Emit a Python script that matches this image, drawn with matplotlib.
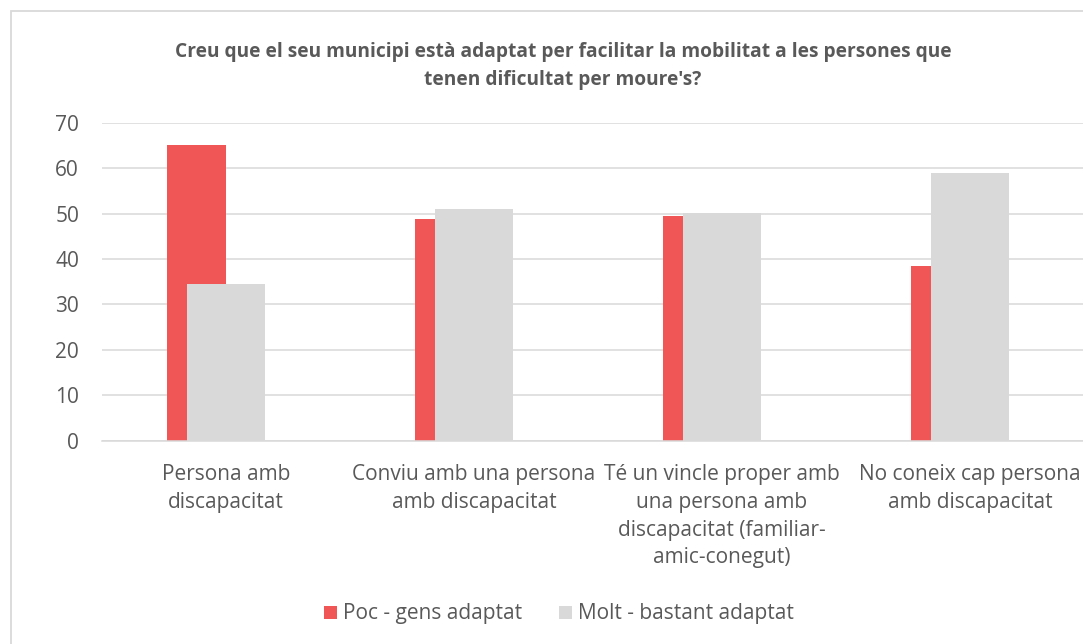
import matplotlib.pyplot as plt
from matplotlib.patches import Rectangle
import numpy as np

# Survey results (%)
categories = [
    "Persona amb\ndiscapacitat",
    "Conviu amb una persona\namb discapacitat",
    "Té un vincle proper amb\nuna persona amb\ndiscapacitat (familiar-\namic-conegut)",
    "No coneix cap persona\namb discapacitat",
]
poc_gens = [65.2, 48.8, 49.4, 38.5]
molt_bastant = [34.6, 51.0, 50.1, 58.9]
yticks = [0, 10, 20, 30, 40, 50, 60, 70]

title = ("Creu que el seu municipi està adaptat per facilitar la mobilitat a les persones que\n"
         "tenen dificultat per moure's?")

red = '#F05656'
grey = '#D9D9D9'
text_col = '#595959'

plt.rcParams['font.family'] = ['Open Sans', 'DejaVu Sans']

fig = plt.figure(figsize=(10.83, 6.44), dpi=100)
ax = fig.add_axes([102 / 1083, 203.3 / 644, 992 / 1083, 318 / 644])

x = np.arange(len(categories))
ax.bar(x - 0.12, poc_gens, width=0.239, color=red, label='Poc - gens adaptat', zorder=2)
ax.bar(x, molt_bastant, width=0.313, color=grey, label='Molt - bastant adaptat', zorder=3)

ax.set_xlim(-0.5, 3.5)
ax.set_ylim(0, 70)
ax.set_yticks(yticks)
ax.yaxis.grid(True, color=grey, linewidth=1.1, zorder=0)
ax.set_axisbelow(True)
for s in ['left', 'right', 'top']:
    ax.spines[s].set_visible(False)
ax.spines['bottom'].set_color(grey)
ax.spines['bottom'].set_linewidth(1.1)

ax.set_xticks(x)
ax.set_xticklabels(categories, fontsize=15, color=text_col, linespacing=1.42, va='top')
ax.tick_params(axis='x', length=0, pad=17)
ax.tick_params(axis='y', length=0, pad=16.5, labelsize=15, labelcolor=text_col)

fig.text(563 / 1083, 1 - 66 / 644, title, ha='center', va='center',
         fontsize=13.8, fontweight='bold', color=text_col, linespacing=1.6)

fig.legend(loc='center', bbox_to_anchor=(559 / 1083, 1 - 614 / 644), ncol=2, frameon=False,
           fontsize=15, labelcolor=text_col, handlelength=0.6, handleheight=0.6,
           handletextpad=0.3, columnspacing=1.8)

# chart frame (runs past the right and bottom edges)
fig.add_artist(Rectangle((11 / 1083, -0.1), 1.2, 1 - 11 / 644 + 0.1, transform=fig.transFigure,
                         fill=False, edgecolor=grey, linewidth=1.3))

fig.savefig('out.png', dpi=100)
